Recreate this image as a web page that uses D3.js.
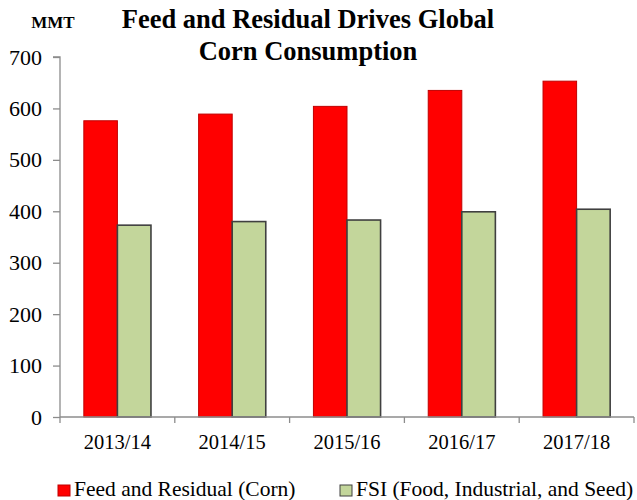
<!DOCTYPE html>
<html>
<head>
<meta charset="utf-8">
<script src="https://cdn.jsdelivr.net/npm/d3@7"></script>
<style>
  body { margin: 0; background: #fff; }
  text { font-family: "Liberation Serif", "Times New Roman", serif; }
</style>
</head>
<body>
<div id="chart-area"></div>
<script>

// data
const years = ["2013/14", "2014/15", "2015/16", "2016/17", "2017/18"];
const feedResidual = [576, 589, 604, 635, 653];
const fsi = [373, 380, 383, 399, 404];
const yTicks = [0, 100, 200, 300, 400, 500, 600, 700];
const seriesNames = ["Feed and Residual (Corn)", "FSI (Food, Industrial, and Seed)"];

const W = 637, H = 500;
const margin = { left: 60, right: 3, top: 57, bottom: 83 };
const width = W - margin.left - margin.right;
const height = H - margin.top - margin.bottom;

const svg = d3.select("#chart-area")
    .append("svg")
    .attr("width", W)
    .attr("height", H);

const g = svg.append("g")
    .attr("transform", "translate(" + margin.left + "," + margin.top + ")");

// X Scale
const x = d3.scaleBand()
    .domain(years)
    .range([0, width]);

const xInner = d3.scaleBand()
    .domain([0, 1])
    .range([0, x.bandwidth()])
    .paddingOuter(0.71)
    .paddingInner(0);

// Y Scale
const y = d3.scaleLinear()
    .domain([0, 700])
    .range([height, 0]);

const axisColor = "#8c8c8c";

// Y axis
const yAxisGroup = g.append("g")
    .call(d3.axisLeft(y).tickValues(yTicks).tickSize(7).tickPadding(11).tickFormat(d3.format("d")));
yAxisGroup.select(".domain").attr("stroke", axisColor).attr("stroke-width", 1.3)
    .attr("d", "M0," + height + "V0H-7");
yAxisGroup.selectAll(".tick line").attr("stroke", axisColor).attr("stroke-width", 1.3);
yAxisGroup.selectAll("text")
    .attr("fill", "#000")
    .style("font-size", "22px")
    .style("font-family", "Liberation Serif");

// bars
const colors = ["#ff0000", "#c3d69b"];
const strokes = ["#c00000", "#404040"];
const series = [feedResidual, fsi];

series.forEach((vals, si) => {
    g.selectAll(".bar-" + si)
        .data(vals)
        .enter()
        .append("rect")
        .attr("class", "bar-" + si)
        .attr("x", (d, i) => x(years[i]) + xInner(si))
        .attr("width", xInner.bandwidth())
        .attr("y", d => y(d))
        .attr("height", d => height - y(d))
        .attr("fill", colors[si])
        .attr("stroke", strokes[si])
        .attr("stroke-width", si === 0 ? 1 : 1.6);
});

// X axis (drawn after bars so it sits on top)
const xAxisGroup = g.append("g")
    .attr("transform", "translate(0," + height + ")")
    .call(d3.axisBottom(x).tickSize(0).tickPadding(17));
xAxisGroup.select(".domain").attr("stroke", axisColor).attr("stroke-width", 1.3)
    .attr("d", "M0,0H" + width);
xAxisGroup.selectAll("text")
    .attr("fill", "#000")
    .style("font-size", "20.5px")
    .style("font-family", "Liberation Serif");

// category separators on the x axis
g.append("g")
    .selectAll("line")
    .data(d3.range(years.length + 1))
    .enter()
    .append("line")
    .attr("x1", i => i * x.step())
    .attr("x2", i => i * x.step())
    .attr("y1", height)
    .attr("y2", height + 6)
    .attr("stroke", axisColor)
    .attr("stroke-width", 1.3);

// title
const title = svg.append("text")
    .attr("x", 308)
    .attr("y", 28)
    .attr("text-anchor", "middle")
    .style("font-size", "26.5px")
    .style("font-weight", "bold");
title.append("tspan").attr("x", 308).attr("y", 28).text("Feed and Residual Drives Global");
title.append("tspan").attr("x", 308).attr("y", 60).text("Corn Consumption");

// unit label
svg.append("text")
    .attr("x", 53)
    .attr("y", 28)
    .attr("text-anchor", "middle")
    .style("font-size", "17px")
    .style("font-weight", "bold")
    .text("MMT");

// legend
const legendX = [58, 340];
const legend = svg.append("g");
seriesNames.forEach((name, i) => {
    legend.append("rect")
        .attr("x", legendX[i])
        .attr("y", 485)
        .attr("width", 12)
        .attr("height", 11)
        .attr("fill", colors[i])
        .attr("stroke", strokes[i])
        .attr("stroke-width", 1);
    legend.append("text")
        .attr("x", legendX[i] + 16)
        .attr("y", 496)
        .style("font-size", "21.5px")
        .text(name);
});
</script>
</body>
</html>
